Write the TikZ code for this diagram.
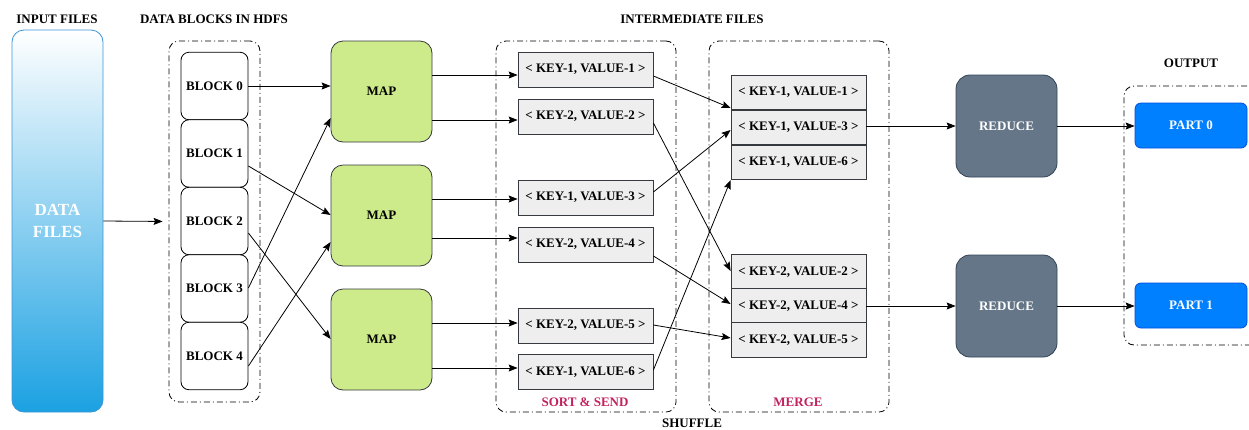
\documentclass[tikz,border=0pt]{standalone}
\usepackage{fontspec}
\setmainfont{Liberation Serif}
\usetikzlibrary{arrows.meta}
\definecolor{mapgreen}{RGB}{205,235,139}
\definecolor{boxline}{RGB}{54,57,61}
\definecolor{kvgray}{RGB}{238,238,238}
\definecolor{redfill}{RGB}{100,118,135}
\definecolor{redline}{RGB}{49,67,84}
\definecolor{partfill}{RGB}{0,127,255}
\definecolor{partline}{RGB}{0,80,220}
\definecolor{dataline}{RGB}{60,150,215}
\definecolor{datablue}{RGB}{27,161,226}
\definecolor{crimson}{RGB}{194,34,94}
\tikzset{
  every node/.style={font=\fontsize{13}{15}\selectfont\bfseries, inner sep=0pt},
  lbl/.style={text=black},
  grp/.style={draw=black, line width=0.8pt, rounded corners=10pt,
    dash pattern=on 6pt off 3pt on 1pt off 3pt},
  datafiles/.style={draw=dataline, line width=0.8pt, rounded corners=12pt,
    top color=white, bottom color=datablue, minimum width=91pt, minimum height=382pt,
    text=white, font=\fontsize{17}{22}\selectfont\bfseries, align=center},
  blockbox/.style={draw=black, fill=white, line width=0.8pt, rounded corners=8pt,
    minimum width=67pt, minimum height=67.5pt},
  mapbox/.style={draw=boxline, fill=mapgreen, line width=0.8pt, rounded corners=12pt,
    minimum width=101pt, minimum height=101pt},
  kvbox/.style={draw=boxline, fill=kvgray, line width=0.8pt,
    minimum width=135pt, minimum height=35pt},
  mrow/.style={draw=boxline, fill=kvgray, line width=0.8pt,
    minimum width=135pt, minimum height=34.5pt},
  redbox/.style={draw=redline, fill=redfill, line width=0.8pt, rounded corners=14pt,
    minimum width=101pt, minimum height=102pt, text=white},
  partbox/.style={draw=partline, fill=partfill, line width=0.8pt, rounded corners=6pt,
    minimum width=112pt, minimum height=45pt, text=white},
  arr/.style={draw=black, line width=0.8pt, -{Stealth[length=9pt,width=7pt,inset=1.5pt]}},
  grplbl/.style={text=crimson}
}
\begin{document}
\begin{tikzpicture}[x=1pt,y=-1pt]
\clip (0,0) rectangle (1249,429);
\useasboundingbox (0,0) rectangle (1249,429);

% labels
\node[lbl] (linput) at (57,19) {INPUT FILES};
\node[lbl] (lblocks) at (214,19) {DATA BLOCKS IN HDFS};
\node[lbl] (linter) at (692,19) {INTERMEDIATE FILES};
\node[lbl] (lshuffle) at (692,423) {SHUFFLE};
\node[lbl] (loutput) at (1191,63) {OUTPUT};

% input
\node[datafiles] (data) at (57.5,221) {DATA\\FILES};

% groups
\node[grp, minimum width=91pt, minimum height=361pt] (gblocks) at (214.5,221.5) {};
\node[grp, minimum width=180pt, minimum height=371pt] (gsort) at (586,226.5) {};
\node[grp, minimum width=180pt, minimum height=371pt] (gmerge) at (799,226.5) {};
\node[grp, minimum width=146pt, minimum height=259pt] (gout) at (1197,215.5) {};
\node[grplbl] (lsort) at (585,402) {SORT \& SEND};
\node[grplbl] (lmerge) at (798,402) {MERGE};

% blocks
\node[blockbox] (b0) at (214.5,86) {BLOCK 0};
\node[blockbox] (b1) at (214.5,153.5) {BLOCK 1};
\node[blockbox] (b2) at (214.5,221) {BLOCK 2};
\node[blockbox] (b3) at (214.5,288.5) {BLOCK 3};
\node[blockbox] (b4) at (214.5,356) {BLOCK 4};

% maps
\node[mapbox] (m1) at (381.5,91.5) {MAP};
\node[mapbox] (m2) at (381.5,215.5) {MAP};
\node[mapbox] (m3) at (381.5,339.5) {MAP};

% sort & send
\node[kvbox] (k1) at (585.5,69.5) {< KEY-1, VALUE-1 >};
\node[kvbox] (k2) at (585.5,116.5) {< KEY-2, VALUE-2 >};
\node[kvbox] (k3) at (585.5,197.5) {< KEY-1, VALUE-3 >};
\node[kvbox] (k4) at (585.5,244.5) {< KEY-2, VALUE-4 >};
\node[kvbox] (k5) at (585.5,325.5) {< KEY-2, VALUE-5 >};
\node[kvbox] (k6) at (585.5,372) {< KEY-1, VALUE-6 >};

% merge
\node[mrow] (r11) at (798.5,92.5) {< KEY-1, VALUE-1 >};
\node[mrow] (r12) at (798.5,127.5) {< KEY-1, VALUE-3 >};
\node[mrow] (r13) at (798.5,162.5) {< KEY-1, VALUE-6 >};
\node[mrow] (r21) at (798.5,272) {< KEY-2, VALUE-2 >};
\node[mrow] (r22) at (798.5,306) {< KEY-2, VALUE-4 >};
\node[mrow] (r23) at (798.5,340) {< KEY-2, VALUE-5 >};

% reduce
\node[redbox] (red1) at (1006.5,126) {REDUCE};
\node[redbox] (red2) at (1006.5,306) {REDUCE};

% output parts
\node[partbox] (p0) at (1191,125.5) {PART 0};
\node[partbox] (p1) at (1191,305.5) {PART 1};

% connectors
\draw[arr, shorten >=6pt] (data.east) -- (gblocks.west);

\draw[arr] (b0.east) -- (m1.west |- b0.east);
\draw[arr] (b1.east |- 0,166) -- (m2.west |- 0,215);
\draw[arr] (b2.east |- 0,233) -- (m3.west |- 0,339);
\draw[arr] (b3.east |- 0,288) -- (m1.west |- 0,118);
\draw[arr] (b4.east |- 0,366) -- (m2.west |- 0,242);

\draw[arr] (m1.east |- 0,75) -- (k1.west |- 0,75);
\draw[arr] (m1.east |- 0,120) -- (k2.west |- 0,120);
\draw[arr] (m2.east |- 0,199) -- (k3.west |- 0,199);
\draw[arr] (m2.east |- 0,238) -- (k4.west |- 0,238);
\draw[arr] (m3.east |- 0,323) -- (k5.west |- 0,323);
\draw[arr] (m3.east |- 0,368) -- (k6.west |- 0,368);

\draw[arr] (k1.east |- 0,76) -- (r11.west |- 0,108);
\draw[arr] (k2.east |- 0,123) -- (r21.west |- 0,271);
\draw[arr] (k3.east |- 0,192) -- (r12.west |- 0,130);
\draw[arr] (k4.east |- 0,256) -- (r22.west |- 0,304);
\draw[arr] (k5.east |- 0,325) -- (r23.west |- 0,338);
\draw[arr] (k6.east |- 0,370) -- (r13.south west);

\draw[arr] (r12.east |- red1.west) -- (red1.west);
\draw[arr] (r22.east) -- (red2.west |- r22.east);
\draw[arr] (red1.east) -- (p0.west |- red1.east);
\draw[arr] (red2.east) -- (p1.west |- red2.east);
\end{tikzpicture}
\end{document}
